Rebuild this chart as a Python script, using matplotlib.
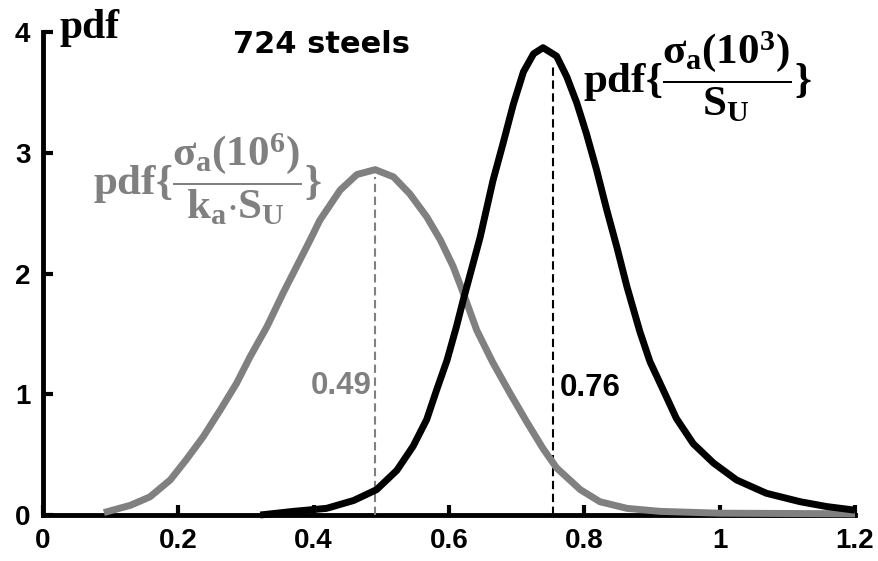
import matplotlib
matplotlib.use("Agg")
import matplotlib.pyplot as plt

# ---- data ----
gray_x = [0.09, 0.129, 0.158, 0.188, 0.212, 0.237, 0.262, 0.286, 0.306, 0.331,
          0.355, 0.375, 0.395, 0.409, 0.439, 0.464, 0.491, 0.518, 0.542, 0.567,
          0.587, 0.606, 0.619, 0.641, 0.665, 0.690, 0.715, 0.739, 0.759, 0.794,
          0.823, 0.863, 0.912, 1.0, 1.2]
gray_y = [0.02, 0.08, 0.15, 0.29, 0.46, 0.65, 0.87, 1.09, 1.31, 1.56,
          1.84, 2.06, 2.28, 2.44, 2.69, 2.82, 2.86, 2.80, 2.66, 2.47,
          2.28, 2.06, 1.87, 1.53, 1.26, 1.01, 0.77, 0.55, 0.39, 0.21,
          0.11, 0.055, 0.03, 0.015, 0.01]

black_x = [0.321, 0.37, 0.419, 0.459, 0.493, 0.523, 0.547, 0.567, 0.582, 0.597,
           0.611, 0.621, 0.634, 0.646, 0.665, 0.680, 0.695, 0.710, 0.725, 0.739,
           0.759, 0.774, 0.789, 0.803, 0.818, 0.833, 0.848, 0.863, 0.882, 0.897,
           0.917, 0.936, 0.961, 0.991, 1.025, 1.069, 1.119, 1.158, 1.2]
black_y = [0.0, 0.03, 0.055, 0.12, 0.21, 0.37, 0.57, 0.79, 1.04, 1.28,
           1.56, 1.78, 2.05, 2.30, 2.77, 3.08, 3.40, 3.67, 3.82, 3.87,
           3.80, 3.63, 3.41, 3.16, 2.86, 2.53, 2.22, 1.89, 1.52, 1.27,
           1.03, 0.80, 0.59, 0.43, 0.29, 0.18, 0.11, 0.07, 0.04]

gray_mode = 0.4906
gray_mode_top = 2.80
black_mode = 0.754
black_mode_top = 3.71

x_ticks = [0, 0.2, 0.4, 0.6, 0.8, 1.0, 1.2]
x_tick_labels = ["0", "0.2", "0.4", "0.6", "0.8", "1", "1.2"]
y_ticks = [0, 1, 2, 3, 4]
y_tick_labels = ["0", "1", "2", "3", "4"]

GRAY = "#808080"

plt.rcParams["mathtext.fontset"] = "custom"
plt.rcParams["mathtext.rm"] = "Liberation Serif:bold"
plt.rcParams["mathtext.it"] = "Liberation Serif:bold"
plt.rcParams["mathtext.bf"] = "Liberation Serif:bold"
plt.rcParams["mathtext.sf"] = "Liberation Serif:bold"

fig = plt.figure(figsize=(8.79, 5.61), dpi=100)
ax = fig.add_axes([43 / 879, 1 - 515 / 561, (855 - 43) / 879, (515 - 32) / 561])
ax.set_xlim(0, 1.2)
ax.set_ylim(0, 4)

ax.plot(gray_x, gray_y, color=GRAY, lw=5, solid_capstyle="butt",
        solid_joinstyle="round", zorder=4, clip_on=False)
ax.plot(black_x, black_y, color="black", lw=5, solid_capstyle="butt",
        solid_joinstyle="round", zorder=5, clip_on=False)

ax.plot([gray_mode, gray_mode], [0, gray_mode_top], color=GRAY, lw=1.5,
        ls=(0, (4, 2.2)), zorder=3)
ax.plot([black_mode, black_mode], [0, black_mode_top], color="black", lw=1.5,
        ls=(0, (4, 2.2)), zorder=3)

for s in ["top", "right"]:
    ax.spines[s].set_visible(False)
for s in ["left", "bottom"]:
    ax.spines[s].set_linewidth(3.5)
    ax.spines[s].set_capstyle("projecting")

ax.set_xticks(x_ticks)
ax.set_xticklabels(x_tick_labels)
ax.set_yticks(y_ticks)
ax.set_yticklabels(y_tick_labels)
ax.tick_params(direction="in", length=7, width=3, labelsize=20, pad=9)
for lab in ax.get_xticklabels() + ax.get_yticklabels():
    lab.set_fontweight("bold")
    lab.set_fontfamily("Liberation Sans")

ax.text(0.025, 3.95, "pdf", family="Liberation Serif", weight="bold", fontsize=30,
        ha="left", va="baseline")
ax.text(0.412, 3.90, "724 steels", family="DejaVu Sans", weight="bold", fontsize=22,
        ha="center", va="center")

ax.text(0.074, 2.78, r"$\mathrm{pdf}\{\dfrac{\sigma_a(10^6)}{k_a{\cdot}S_U}\}$",
        color=GRAY, fontsize=31, ha="left", va="center")
ax.text(0.798, 3.63, r"$\mathrm{pdf}\{\dfrac{\sigma_a(10^3)}{S_U}\}$",
        color="black", fontsize=31, ha="left", va="center")

ax.text(0.485, 1.07, "0.49", color=GRAY, family="Liberation Sans", weight="bold",
        fontsize=22.5, ha="right", va="center")
ax.text(0.764, 1.05, "0.76", color="black", family="Liberation Sans", weight="bold",
        fontsize=22.5, ha="left", va="center")

fig.savefig("out.png", dpi=100)
